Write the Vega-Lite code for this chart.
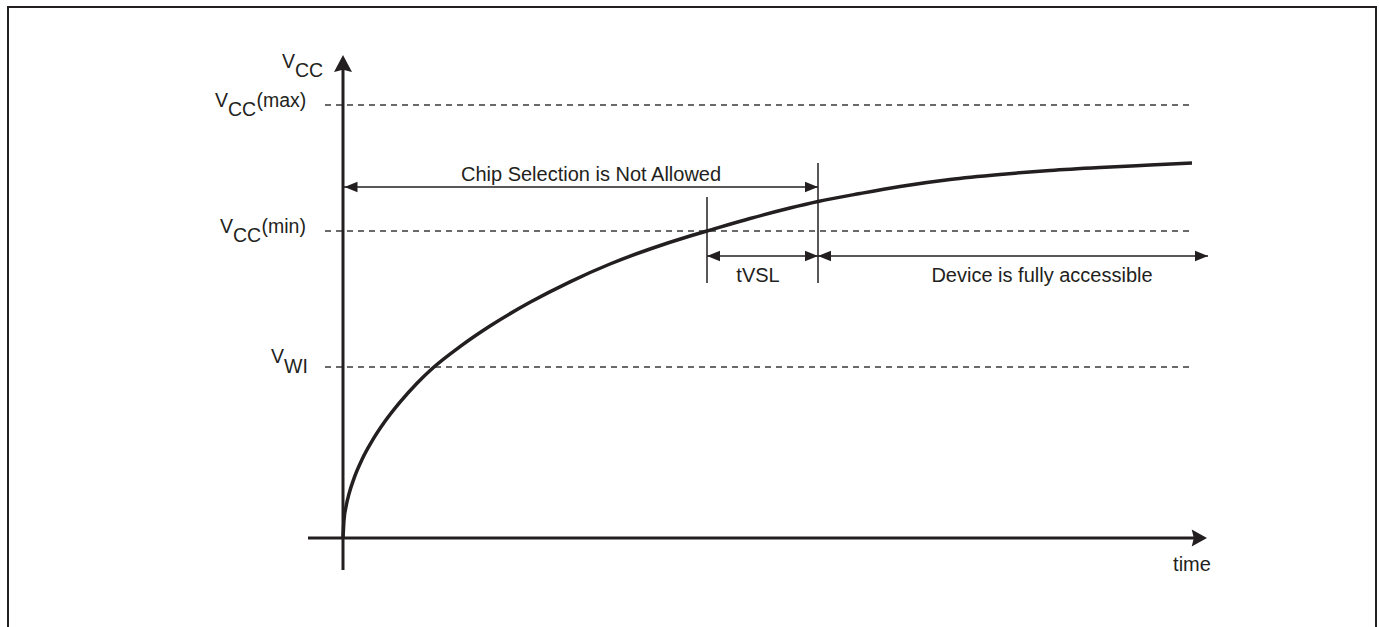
{
  "$schema": "https://vega.github.io/schema/vega-lite/v6.json",
  "width": 1379,
  "height": 627,
  "padding": 0,
  "autosize": {"type": "none"},
  "background": "white",
  "config": {"view": {"stroke": null}},
  "datasets": {
    "frame": [{"t": -335, "t2": 1033, "v": 531, "v2": -110}],
    "levels": [
      {"level": "VCC(max)", "v": 433, "t": -18, "t2": 850},
      {"level": "VCC(min)", "v": 307, "t": -18, "t2": 850},
      {"level": "VWI", "v": 171, "t": -18, "t2": 850}
    ],
    "axes": [
      {"axis": "voltage", "t": 0, "t2": 0, "v": -32, "v2": 470},
      {"axis": "time", "t": -35, "t2": 852, "v": 0, "v2": 0}
    ],
    "axisHeads": [
      {"axis": "voltage", "dir": "up", "t": 0, "v": 474},
      {"axis": "time", "dir": "right", "t": 855.5, "v": 0}
    ],
    "spans": [
      {"span": "Chip Selection is Not Allowed", "t": 0, "t2": 475, "v": 351, "v2": 351},
      {"span": "tVSL", "t": 364, "t2": 475, "v": 282, "v2": 282},
      {"span": "Device is fully accessible", "t": 475, "t2": 865, "v": 282, "v2": 282},
      {"span": "marker tVSL start", "t": 364, "t2": 364, "v": 255, "v2": 341},
      {"span": "marker tVSL end", "t": 475, "t2": 475, "v": 255, "v2": 375}
    ],
    "spanHeads": [
      {"span": "Chip Selection is Not Allowed", "dir": "left", "t": 8, "v": 351},
      {"span": "Chip Selection is Not Allowed", "dir": "right", "t": 468.5, "v": 351},
      {"span": "tVSL", "dir": "left", "t": 370.5, "v": 282},
      {"span": "tVSL", "dir": "right", "t": 468.5, "v": 282},
      {"span": "Device is fully accessible", "dir": "left", "t": 481.5, "v": 282},
      {"span": "Device is fully accessible", "dir": "right", "t": 858.5, "v": 282}
    ],
    "vcc": [
      {"t": 0, "v": 0}, {"t": 1, "v": 18}, {"t": 3, "v": 31.2}, {"t": 6, "v": 44.1},
      {"t": 11, "v": 59.7}, {"t": 19, "v": 78.5}, {"t": 29, "v": 96.9}, {"t": 42, "v": 116.7},
      {"t": 57, "v": 135.9}, {"t": 74, "v": 154.8}, {"t": 89, "v": 169.3}, {"t": 117, "v": 191.4},
      {"t": 147, "v": 212}, {"t": 187, "v": 235.7}, {"t": 227, "v": 256.2}, {"t": 267, "v": 274},
      {"t": 307, "v": 289}, {"t": 347, "v": 302}, {"t": 364, "v": 307}, {"t": 407, "v": 319.5},
      {"t": 447, "v": 330}, {"t": 475, "v": 336.5}, {"t": 517, "v": 344.5}, {"t": 557, "v": 351.5},
      {"t": 607, "v": 358.5}, {"t": 657, "v": 363.5}, {"t": 707, "v": 367.5}, {"t": 757, "v": 370.5},
      {"t": 807, "v": 373}, {"t": 849, "v": 375}
    ],
    "symbols": [
      {"text": "V", "t": -61, "v": 470},
      {"text": "CC", "t": -48, "v": 461},
      {"text": "V", "t": -128, "v": 431},
      {"text": "CC", "t": -115, "v": 422},
      {"text": "(max)", "t": -86.5, "v": 431},
      {"text": "V", "t": -123, "v": 305},
      {"text": "CC", "t": -110, "v": 296},
      {"text": "(min)", "t": -81.5, "v": 305},
      {"text": "V", "t": -72, "v": 175},
      {"text": "WI", "t": -59, "v": 165}
    ],
    "notes": [
      {"text": "Chip Selection is Not Allowed", "t": 248, "v": 357},
      {"text": "tVSL", "t": 415, "v": 256},
      {"text": "Device is fully accessible", "t": 699, "v": 256},
      {"text": "time", "t": 849, "v": -33}
    ]
  },
  "encoding": {
    "x": {"field": "t", "type": "quantitative", "axis": null, "scale": {"domain": [-343, 1036], "nice": false, "zero": false}},
    "y": {"field": "v", "type": "quantitative", "axis": null, "scale": {"domain": [-89, 538], "nice": false, "zero": false}}
  },
  "layer": [
    {
      "data": {"name": "frame"},
      "mark": {"type": "rect", "fill": "white", "fillOpacity": 0, "stroke": "#231f20", "strokeWidth": 2},
      "encoding": {"x2": {"field": "t2"}, "y2": {"field": "v2"}}
    },
    {
      "data": {"name": "levels"},
      "mark": {"type": "rule", "stroke": "#3a3a3a", "strokeWidth": 1.3, "strokeDash": [6, 5]},
      "encoding": {"x2": {"field": "t2"}}
    },
    {
      "data": {"name": "spans"},
      "mark": {"type": "rule", "stroke": "#231f20", "strokeWidth": 1.5},
      "encoding": {"x2": {"field": "t2"}, "y2": {"field": "v2"}}
    },
    {
      "data": {"name": "spanHeads"},
      "mark": {"type": "point", "filled": true, "fill": "#231f20", "opacity": 1, "strokeWidth": 0, "size": 169},
      "encoding": {
        "shape": {"field": "dir", "type": "nominal", "legend": null,
          "scale": {"domain": ["left", "right"], "range": ["M-1,0L1,-0.8L1,0.8Z", "M1,0L-1,-0.8L-1,0.8Z"]}}
      }
    },
    {
      "data": {"name": "axes"},
      "mark": {"type": "rule", "stroke": "#231f20", "strokeWidth": 3},
      "encoding": {"x2": {"field": "t2"}, "y2": {"field": "v2"}}
    },
    {
      "data": {"name": "axisHeads"},
      "mark": {"type": "point", "filled": true, "fill": "#231f20", "opacity": 1, "strokeWidth": 0},
      "encoding": {
        "shape": {"field": "dir", "type": "nominal", "legend": null,
          "scale": {"domain": ["up", "right"], "range": ["M0,-1L1,0.9L0,0.65L-1,0.9Z", "M1,0L-0.8,-1L-0.55,0L-0.8,1Z"]}},
        "size": {"field": "dir", "type": "nominal", "legend": null, "scale": {"domain": ["up", "right"], "range": [324, 289]}}
      }
    },
    {
      "data": {"name": "vcc"},
      "mark": {"type": "line", "stroke": "#231f20", "strokeWidth": 3.5, "interpolate": "monotone"},
      "encoding": {}
    },
    {
      "data": {"name": "symbols"},
      "mark": {"type": "text", "align": "left", "baseline": "alphabetic", "font": "Liberation Sans", "fontSize": 19.5, "fill": "#231f20"},
      "encoding": {"text": {"field": "text"}}
    },
    {
      "data": {"name": "notes"},
      "mark": {"type": "text", "align": "center", "baseline": "alphabetic", "font": "Liberation Sans", "fontSize": 20, "fill": "#231f20"},
      "encoding": {"text": {"field": "text"}}
    }
  ],
  "resolve": {"scale": {"shape": "independent", "size": "independent"}}
}
